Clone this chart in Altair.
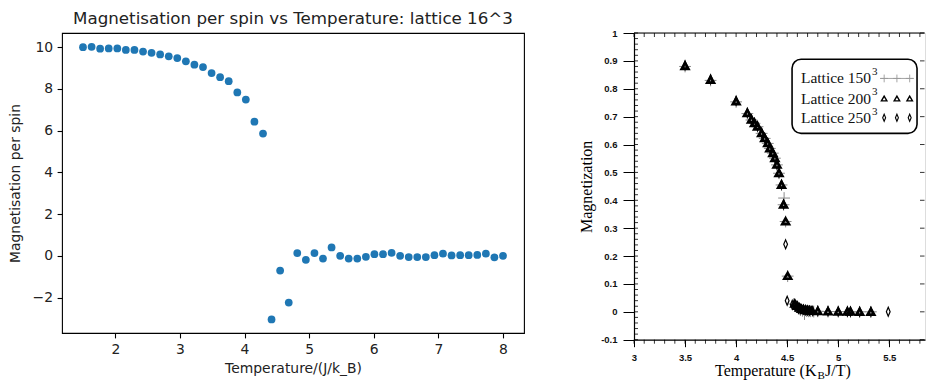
import altair as alt
import pandas as pd
import numpy as np

# ---------------- Left panel data ----------------
temp_left = [1.5, 1.633, 1.765, 1.898, 2.031, 2.163, 2.296, 2.429, 2.561, 2.694,
             2.827, 2.959, 3.092, 3.224, 3.357, 3.490, 3.622, 3.755, 3.888, 4.020,
             4.153, 4.286, 4.418, 4.551, 4.684, 4.816, 4.949, 5.082, 5.214, 5.347,
             5.480, 5.612, 5.745, 5.878, 6.010, 6.143, 6.276, 6.408, 6.541, 6.673,
             6.806, 6.939, 7.071, 7.204, 7.337, 7.469, 7.602, 7.735, 7.867, 8.0]
mag_left = [10.0, 10.02, 9.93, 9.94, 9.94, 9.87, 9.87, 9.79, 9.73, 9.65,
            9.56, 9.48, 9.32, 9.16, 9.05, 8.76, 8.56, 8.37, 7.83, 7.49,
            6.43, 5.86, -3.05, -0.71, -2.24, 0.13, -0.19, 0.13, -0.13, 0.40,
            0.0, -0.13, -0.13, -0.05, 0.08, 0.08, 0.14, 0.0, -0.06, -0.06,
            -0.06, 0.03, 0.10, 0.02, 0.03, 0.03, 0.04, 0.10, -0.07, 0.0]
left_xticks = [2, 3, 4, 5, 6, 7, 8]
left_yticks = [-2, 0, 2, 4, 6, 8, 10]

# ---------------- Right panel data ----------------
t200 = [3.50, 3.75, 4.00, 4.11, 4.15, 4.18, 4.21, 4.25, 4.28, 4.31,
        4.33, 4.36, 4.38, 4.40, 4.42, 4.445, 4.465, 4.485, 4.505, 4.575,
        4.60, 4.62, 4.64, 4.66, 4.68, 4.70, 4.72, 4.74, 4.80, 4.90,
        5.00, 5.09, 5.12, 5.21, 5.32]
m200 = [0.882, 0.832, 0.755, 0.713, 0.690, 0.677, 0.665, 0.641, 0.623, 0.605,
        0.587, 0.570, 0.552, 0.528, 0.498, 0.456, 0.385, 0.325, 0.129, 0.030,
        0.022, 0.015, 0.011, 0.009, 0.007, 0.006, 0.005, 0.004, 0.003, 0.002,
        0.001, 0.001, 0.001, 0.0, 0.0]
t150 = [3.50, 3.75, 4.00, 4.11, 4.15, 4.18, 4.21, 4.25, 4.28, 4.31,
        4.33, 4.36, 4.38, 4.40, 4.42, 4.445, 4.47, 4.465, 4.485, 4.505,
        4.565, 4.59, 4.61, 4.63, 4.65, 4.67, 4.69, 4.71, 4.73, 4.76,
        4.80, 4.90, 5.00, 5.09, 5.12, 5.21, 5.32]
m150 = [0.880, 0.830, 0.753, 0.711, 0.688, 0.676, 0.664, 0.640, 0.622, 0.604,
        0.586, 0.569, 0.551, 0.527, 0.497, 0.455, 0.408, 0.384, 0.324, 0.128,
        0.028, 0.020, 0.012, 0.006, 0.004, -0.008, 0.003, 0.002, 0.002, 0.001,
        0.002, 0.001, 0.001, 0.001, 0.0, 0.0, 0.0]
t250 = [3.50, 3.75, 4.00, 4.11, 4.15, 4.18, 4.21, 4.25, 4.28, 4.31,
        4.33, 4.36, 4.38, 4.40, 4.42, 4.445, 4.465, 4.485, 4.50, 4.55,
        4.58, 4.61, 4.63, 4.66, 4.68, 4.70, 4.72, 4.75, 4.80, 4.90,
        5.00, 5.09, 5.12, 5.21, 5.32, 5.49]
m250 = [0.884, 0.834, 0.757, 0.714, 0.691, 0.678, 0.666, 0.642, 0.624, 0.606,
        0.588, 0.571, 0.553, 0.529, 0.499, 0.457, 0.386, 0.242, 0.040, 0.025,
        0.020, 0.012, 0.010, 0.008, 0.006, 0.005, 0.004, 0.003, 0.003, 0.002,
        0.001, 0.001, 0.001, 0.0, 0.0, 0.0]
right_xticks = [3, 3.5, 4, 4.5, 5, 5.5]
right_yticks = [-0.1, 0, 0.1, 0.2, 0.3, 0.4, 0.5, 0.6, 0.7, 0.8, 0.9, 1.0]
legend_labels = ["Lattice 150", "Lattice 200", "Lattice 250"]

# ---------------- Left panel ----------------
TXT = "#222222"
left_df = pd.DataFrame({"T": temp_left, "M": mag_left})
ax_common = dict(grid=False, domain=False, tickSize=4.9, tickWidth=1.1, tickColor="black",
                 labelFont="DejaVu Sans", labelFontSize=13.9, labelColor=TXT, labelPadding=4.5,
                 titleFont="DejaVu Sans", titleFontSize=13.9, titleFontWeight="normal",
                 titleColor=TXT)
left = alt.Chart(left_df).mark_circle(size=60, color="#1f77b4", opacity=1).encode(
    x=alt.X("T:Q", scale=alt.Scale(domain=[1.175, 8.325], nice=False, zero=False),
            axis=alt.Axis(values=left_xticks, title="Temperature/(J/k_B)", titlePadding=5,
                          labelFlush=False, **ax_common)),
    y=alt.Y("M:Q", scale=alt.Scale(domain=[-3.70, 10.68], nice=False, zero=False),
            axis=alt.Axis(values=left_yticks, title="Magnetisation per spin", titlePadding=9.5,
                          labelFlush=False, **ax_common)),
).properties(
    width=462, height=300,
    title=alt.TitleParams("Magnetisation per spin vs Temperature: lattice 16^3",
                          font="DejaVu Sans", fontSize=16.7, fontWeight="normal",
                          color=TXT, offset=5, anchor="middle"),
    view=alt.ViewBackground(stroke="black", strokeWidth=1.1),
)

# ---------------- Right panel ----------------
W2, H2 = 291, 306.7
xs2 = alt.Scale(domain=[3, 5.85], nice=False, zero=False)
ys2 = alt.Scale(domain=[-0.1, 1.0], nice=False, zero=False)

xaxis2 = alt.Axis(values=right_xticks, title=None, grid=False, domain=True, domainColor="black",
                  domainWidth=1.2, tickSize=7, tickColor="black", tickWidth=1,
                  labelFont="Liberation Sans", labelFontWeight="bold", labelFontSize=9.5,
                  labelColor="#111111", labelPadding=6, labelFlush=False, format="~g")
yaxis2 = alt.Axis(values=right_yticks, title="Magnetization", grid=False, domain=True,
                  domainColor="black", domainWidth=1.2, tickSize=11, tickColor="black",
                  tickWidth=1, labelFont="Liberation Sans", labelFontWeight="bold",
                  labelFontSize=9.5, labelColor="#111111", labelPadding=6, labelFlush=False,
                  format="~g", labelExpr="replace(datum.label, '\u2212', '-')",
                  titleFont="Liberation Serif", titleFontSize=16, titleFontWeight="normal",
                  titleColor="black", titlePadding=6)


def X(field):
    return alt.X(field, scale=xs2, axis=xaxis2)


def Y(field):
    return alt.Y(field, scale=ys2, axis=yaxis2)


PLUS = "M-1,0L1,0M0,-1L0,1"
DIAM = "M0,-1L0.42,0L0,1L-0.42,0Z"

df150 = pd.DataFrame({"T": t150, "M": m150})
df200 = pd.DataFrame({"T": t200, "M": m200})
df250 = pd.DataFrame({"T": t250, "M": m250})

crosses = alt.Chart(df150).mark_point(shape=PLUS, color="#8a8a8a", strokeWidth=1,
                                      size=140, filled=False, opacity=1).encode(
    x=X("T:Q"), y=Y("M:Q"))
diamonds = alt.Chart(df250).mark_point(shape=DIAM, color="black", strokeWidth=1.2,
                                       size=80, filled=False, opacity=1).encode(
    x=X("T:Q"), y=Y("M:Q"))
triangles = alt.Chart(df200).mark_point(shape="triangle-up", color="black", strokeWidth=2.6,
                                        size=46, filled=False, opacity=1).encode(
    x=X("T:Q"), y=Y("M:Q"))

# frame ticks (decoration)
minor_y = pd.DataFrame({"v": np.round(np.arange(-0.1, 1.0001, 0.02), 3)})
minor_x = pd.DataFrame({"v": np.round(np.arange(3.0, 5.85, 0.1), 3)})
major_y = pd.DataFrame({"v": right_yticks})
one = pd.DataFrame({"a": [0]})

left_minor = alt.Chart(minor_y).mark_rule(color="black", strokeWidth=0.8).encode(
    y=Y("v:Q"), x=alt.value(0), x2=alt.value(4))
bottom_minor = alt.Chart(minor_x).mark_rule(color="black", strokeWidth=0.8).encode(
    x=X("v:Q"), y=alt.value(H2), y2=alt.value(H2 + 4))
top_minor = alt.Chart(minor_x).mark_rule(color="black", strokeWidth=0.8).encode(
    x=X("v:Q"), y=alt.value(0), y2=alt.value(4))
right_ticks = alt.Chart(major_y).mark_rule(color="black", strokeWidth=0.8).encode(
    y=Y("v:Q"), x=alt.value(W2 - 5), x2=alt.value(W2 - 0.5))
top_spine = alt.Chart(one).mark_rule(color="black", strokeWidth=1.2).encode(
    x=alt.value(0), x2=alt.value(W2 - 0.5), y=alt.value(0))

# manual legend in data coordinates
box = alt.Chart(pd.DataFrame({"x1": [4.548], "x2": [5.772], "y1": [0.906], "y2": [0.640]})).mark_rect(
    cornerRadius=9, fill="white", stroke="black", strokeWidth=1.6).encode(
    x=X("x1:Q"), x2="x2:Q", y=Y("y1:Q"), y2="y2:Q")
leg_y = [0.837, 0.765, 0.696]
leg_text = alt.Chart(pd.DataFrame({"x": [4.635] * 3, "y": leg_y, "t": legend_labels})).mark_text(
    align="left", baseline="middle", font="Liberation Serif", fontSize=15.5, color="#111111").encode(
    x=X("x:Q"), y=Y("y:Q"), text="t:N")
leg_sup = alt.Chart(pd.DataFrame({"x": [5.33] * 3, "y": [v + 0.022 for v in leg_y], "t": ["3"] * 3})).mark_text(
    align="left", baseline="middle", font="Liberation Serif", fontSize=11, color="#111111").encode(
    x=X("x:Q"), y=Y("y:Q"), text="t:N")
sym_x = [5.45, 5.575, 5.70]
leg_line = alt.Chart(pd.DataFrame({"x1": [5.41], "x2": [5.74], "y": [leg_y[0]]})).mark_rule(
    color="#9a9a9a", strokeWidth=0.9).encode(
    x=X("x1:Q"), x2="x2:Q", y=Y("y:Q"))
leg_plus = alt.Chart(pd.DataFrame({"x": sym_x, "y": [leg_y[0]] * 3})).mark_point(
    shape=PLUS, color="#9a9a9a", strokeWidth=0.9, size=60, filled=False, opacity=1).encode(
    x=X("x:Q"), y=Y("y:Q"))
leg_tri = alt.Chart(pd.DataFrame({"x": sym_x, "y": [leg_y[1]] * 3})).mark_point(
    shape="triangle-up", color="black", strokeWidth=1.4, size=30, filled=False, opacity=1).encode(
    x=X("x:Q"), y=Y("y:Q"))
leg_dia = alt.Chart(pd.DataFrame({"x": sym_x, "y": [leg_y[2]] * 3})).mark_point(
    shape=DIAM, color="black", strokeWidth=1.1, size=50, filled=False, opacity=1).encode(
    x=X("x:Q"), y=Y("y:Q"))

# x-axis title with subscript B
tfont = dict(font="Liberation Serif", color="black", baseline="middle", align="left")
xt1 = alt.Chart(one).mark_text(text="Temperature (K", fontSize=16, **tfont).encode(
    x=alt.value(81), y=alt.value(338))
xt2 = alt.Chart(one).mark_text(text="B", fontSize=11, **tfont).encode(
    x=alt.value(183.6), y=alt.value(343))
xt3 = alt.Chart(one).mark_text(text="J/T)", fontSize=16, **tfont).encode(
    x=alt.value(191), y=alt.value(338))

right = alt.layer(crosses, left_minor, bottom_minor, top_minor, right_ticks, top_spine,
                  diamonds, triangles, box, leg_text, leg_sup, leg_line, leg_plus,
                  leg_tri, leg_dia, xt1, xt2, xt3).properties(width=W2, height=H2)

chart = alt.hconcat(left, right, spacing=110, bounds="flush").properties(
    padding={"left": 0, "top": 2, "right": 0, "bottom": 0}
).configure_view(stroke=None).configure(background="white")

chart.save("out.html", embed_options={"renderer": "svg", "actions": False})
